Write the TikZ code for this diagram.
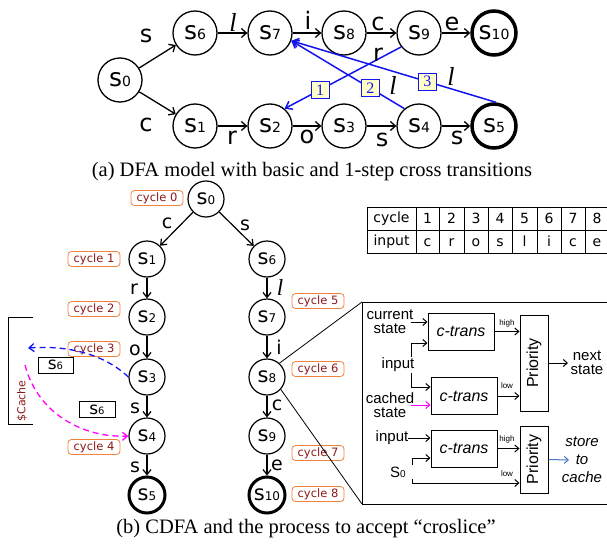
\documentclass[tikz,border=0pt]{standalone}
\usepackage{fontspec}
\setmainfont{Liberation Serif}
\newfontfamily\dv{DejaVu Sans}
\newfontfamily\lsans{Liberation Sans}
\usetikzlibrary{arrows.meta}
\definecolor{cycb}{RGB}{240,130,60}
\definecolor{cyct}{RGB}{140,25,25}
\definecolor{lblf}{RGB}{255,255,200}
\definecolor{blu}{RGB}{20,20,240}
\definecolor{mag}{RGB}{255,0,255}
\definecolor{stb}{RGB}{70,120,200}
\newcommand\sa[1]{{\dv\fontsize{25}{25}\selectfont s\fontsize{14}{14}\selectfont #1}}
\newcommand\sbb[1]{{\dv\fontsize{21}{21}\selectfont s\fontsize{12}{12}\selectfont #1}}
\newcommand\scx[1]{{\dv\fontsize{17}{17}\selectfont s\fontsize{10}{10}\selectfont #1}}
\begin{document}
\begin{tikzpicture}[x=1pt,y=-1pt,
  stA/.style={circle,draw,line width=1.3pt,minimum size=44pt,inner sep=0pt},
  finA/.style={stA,line width=3.5pt},
  stB/.style={circle,draw,line width=1.2pt,minimum size=36pt,inner sep=0pt},
  finB/.style={stB,line width=3pt},
  eA/.style={-{Straight Barb[length=5pt,width=9pt]},line width=1.3pt},
  eB/.style={-{Straight Barb[length=5pt,width=8pt]},line width=1.2pt},
  eBl/.style={-{Straight Barb[length=6pt,width=9pt]},line width=1.5pt,blu},
  eC/.style={-{Straight Barb[length=4pt,width=7pt]},line width=1pt},
  labA/.style={font=\dv\fontsize{24}{24}\selectfont,inner sep=0pt},
  labB/.style={font=\dv\fontsize{19}{19}\selectfont,inner sep=0pt},
  ellA/.style={font=\itshape\fontsize{26}{26}\selectfont,inner sep=0pt},
  ellB/.style={font=\itshape\fontsize{23}{23}\selectfont,inner sep=0pt},
  numbox/.style={draw,line width=0.6pt,fill=lblf,font=\fontsize{16}{16}\selectfont,inner sep=0pt,minimum width=18pt,minimum height=17pt},
  cyc/.style={draw=cycb,rounded corners=3.5pt,line width=0.8pt,text=cyct,font=\dv\fontsize{11.5}{12}\selectfont,minimum width=52pt,minimum height=15pt,inner sep=1pt},
  tbl/.style={font=\dv\fontsize{14}{14}\selectfont,inner sep=0pt},
  ctr/.style={draw,line width=1pt,minimum width=66pt,minimum height=37pt,inner sep=0pt,font=\lsans\itshape\fontsize{16}{16}\selectfont},
  prio/.style={draw,line width=1pt,minimum width=28pt,inner sep=0pt,font=\lsans\fontsize{16}{16}\selectfont},
  bt/.style={font=\lsans\fontsize{15}{14}\selectfont,align=center,inner sep=0pt},
  hl/.style={font=\lsans\fontsize{8}{8}\selectfont,inner sep=0pt},
  captxt/.style={font=\fontsize{20.5}{20.5}\selectfont,inner sep=0pt}
]
\useasboundingbox (0,0) rectangle (607,543);

% ---------- (a) ----------
\node[stA] (a0) at (120,80) {\sa{0}};
\node[stA] (a6) at (195,33) {\sa{6}};
\node[stA] (a7) at (270,33) {\sa{7}};
\node[stA] (a8) at (344,33) {\sa{8}};
\node[stA] (a9) at (419,33) {\sa{9}};
\node[finA] (a10) at (494,33) {\sa{10}};
\node[stA] (a1) at (195,126) {\sa{1}};
\node[stA] (a2) at (270,126) {\sa{2}};
\node[stA] (a3) at (344,126) {\sa{3}};
\node[stA] (a4) at (419,126) {\sa{4}};
\node[finA] (a5) at (494,126) {\sa{5}};

\draw[eA] (a0) -- (a6);
\draw[eA] (a0) -- (a1);
\draw[eA] (a6) -- (a7);
\draw[eA] (a7) -- (a8);
\draw[eA] (a8) -- (a9);
\draw[eA] (a9) -- (a10);
\draw[eA] (a1) -- (a2);
\draw[eA] (a2) -- (a3);
\draw[eA] (a3) -- (a4);
\draw[eA] (a4) -- (a5);

\node[labA] (la1) at (146,36) {s};
\node[labA] (la2) at (146,125) {c};
\node[ellA] (la3) at (233,22) {l};
\node[labA] (la4) at (308,20) {i};
\node[labA] (la5) at (378,24) {c};
\node[labA] (la6) at (452,24) {e};
\node[labA] (la7) at (232,138) {r};
\node[labA] (la8) at (307,137) {o};
\node[labA] (la9) at (382,140) {s};
\node[labA] (la10) at (457,138) {s};

\draw[eBl] (a9.-142) -- node[numbox,pos=0.695] (n1) {1} (a2.50);
\draw[eBl] (a4.130) -- node[numbox,pos=0.3] (n2) {2} (a7.-20);
\draw[eBl] (a5.85) -- node[numbox,pos=0.335] (n3) {3} (a7.-20);
\node[labA] (lr) at (378,55) {r};
\node[ellA] (ll2) at (393,85) {l};
\node[ellA] (ll3) at (451,76) {l};

\node[captxt,anchor=base] (capa) at (312,176) {(a) DFA model with basic and 1-step cross transitions};

% ---------- (b) ----------
\node[stB] (b0) at (206,199) {\sbb{0}};
\node[stB] (b1) at (147,259) {\sbb{1}};
\node[stB] (b2) at (147,317) {\sbb{2}};
\node[stB] (b3) at (147,377) {\sbb{3}};
\node[stB] (b4) at (147,436) {\sbb{4}};
\node[finB] (b5) at (147,495) {\sbb{5}};
\node[stB] (b6) at (267,259) {\sbb{6}};
\node[stB] (b7) at (267,317) {\sbb{7}};
\node[stB] (b8) at (267,377) {\sbb{8}};
\node[stB] (b9) at (267,436) {\sbb{9}};
\node[finB] (b10) at (267,495) {\sbb{10}};

\draw[eB] (b0) -- (b1);
\draw[eB] (b0) -- (b6);
\draw[eB] (b1) -- (b2);
\draw[eB] (b2) -- (b3);
\draw[eB] (b3) -- (b4);
\draw[eB] (b4) -- (b5);
\draw[eB] (b6) -- (b7);
\draw[eB] (b7) -- (b8);
\draw[eB] (b8) -- (b9);
\draw[eB] (b9) -- (b10);

\node[labB] (lb1) at (167,223) {c};
\node[labB] (lb2) at (245,225) {s};
\node[labB] (lb3) at (134,289) {r};
\node[ellB] (lb4) at (280,288) {l};
\node[labB] (lb5) at (135,350) {o};
\node[labB] (lb6) at (279,347) {i};
\node[labB] (lb7) at (135,408) {s};
\node[labB] (lb8) at (277,405) {c};
\node[labB] (lb9) at (135,467) {s};
\node[labB] (lb10) at (277,465) {e};

\node[cyc] (c0) at (157,198) {cycle 0};
\node[cyc] (c1) at (94,259) {cycle 1};
\node[cyc] (c2) at (94,309) {cycle 2};
\node[cyc] (c3) at (94,349) {cycle 3};
\node[cyc] (c4) at (94,447) {cycle 4};
\node[cyc] (c5) at (318,301) {cycle 5};
\node[cyc] (c6) at (318,369) {cycle 6};
\node[cyc] (c7) at (318,453) {cycle 7};
\node[cyc] (c8) at (318,494) {cycle 8};

% cache bracket
\draw[line width=1pt] (33,317) -- (8,317) -- (8,424) -- (33,424);
\node[rotate=90,text=cyct,font=\dv\fontsize{11}{11}\selectfont,inner sep=0pt] (cache) at (22,401) {\$Cache};
\node[draw,line width=1pt,minimum width=35pt,minimum height=16pt,inner sep=0pt] (k1) at (55.5,365) {\scx{6}};
\node[draw,line width=1pt,minimum width=36pt,minimum height=16pt,inner sep=0pt] (k2) at (97,409.5) {\scx{6}};
\coordinate (bl1) at (28,348);
\coordinate (mg1) at (25,365);
\draw[blu,line width=1.3pt,dash pattern=on 6pt off 4pt,-{Straight Barb[length=5pt,width=8pt]}]
  (b3.west) .. controls (105,355) and (70,345) .. (bl1);
\draw[mag,line width=1.3pt,dash pattern=on 6pt off 4pt,-{Straight Barb[length=5pt,width=8pt]}]
  (mg1) .. controls (38,415) and (85,438) .. (b4.west);

% table
\draw[line width=0.8pt] (367,207) rectangle (615,253);
\draw[line width=0.8pt] (367,230) -- (615,230);
\foreach \x in {416,439,464,488,512,537,561,585}
  \draw[line width=0.8pt] (\x,207) -- (\x,253);
\node[tbl] (tc) at (391.5,218.5) {cycle};
\node[tbl] (ti) at (391.5,241.5) {input};
\foreach \cx/\n/\ch [count=\i] in {427.5/1/c,451.5/2/r,476/3/o,500/4/s,524.5/5/l,549/6/i,573/7/c,597/8/e}{
  \node[tbl] (tn\i) at (\cx,218.5) {\n};
  \node[tbl] (tch\i) at (\cx,241.5) {\vphantom{l}\ch};
}

% detail box
\coordinate (bxt) at (362,302);
\coordinate (bxb) at (362,504);
\draw[line width=1pt] (bxt) rectangle (615,504);
\draw[line width=0.8pt] (b8.48) -- (bxt);
\draw[line width=0.8pt] (b8.-42) -- (bxb);

\node[ctr] (ct1) at (461,331.5) {c-trans};
\node[ctr] (ct2) at (464,396) {c-trans};
\node[ctr] (ct3) at (464,448.5) {c-trans};
\node[prio,minimum height=96pt] (pr1) at (534,363) {\rotatebox{90}{Priority}};
\node[prio,minimum height=67pt] (pr2) at (534,459.5) {\rotatebox{90}{Priority}};

\node[bt] (cur) at (390,322) {current\\state};
\node[bt] (inp1) at (398,365) {input};
\node[bt] (cch) at (390,405) {cached\\state};
\node[bt] (nxt) at (587,363) {next\\state};
\node[bt] (inp2) at (392,438) {input};
\node[bt] (szero) at (398,472) {S{\fontsize{10}{10}\selectfont 0}};
\node[bt,font=\lsans\itshape\fontsize{15}{18}\selectfont] (sto) at (582,460) {store\\to\\cache};

\draw[eC] ([xshift=-3pt]cur.east) -- (cur.east -| ct1.west);
\coordinate (i1t) at (411,357);
\coordinate (i1b) at (411,373);
\draw[eC] (i1t) |- ([yshift=-11.5pt]ct1.west);
\draw[eC] (i1b) |- ([yshift=9pt]ct2.west);
\draw[eC,mag] ([xshift=-3pt]cch.east) -- (cch.east -| ct2.west);
\draw[eC] (ct1.east) -- (ct1.east -| pr1.west);
\draw[eC] (ct2.east) -- (ct2.east -| pr1.west);
\coordinate (nsend) at (568,363);
\draw[eC] (pr1.east) -- (nsend);
\draw[eC] (inp2.east) -- (inp2.east -| ct3.west);
\coordinate (s0t) at (412,465);
\coordinate (s0b) at (412,479);
\draw[eC] (s0t) |- ([yshift=-9.5pt]ct3.west);
\draw[eC] (s0b) |- ([yshift=-23.5pt]pr2.west);
\draw[eC] (ct3.east) -- (ct3.east -| pr2.west);
\coordinate (stoend) at (569,460);
\draw[eC,stb] (pr2.east) -- (stoend);

\node[hl] (h1) at (507,323) {high};
\node[hl] (l1) at (507,386) {low};
\node[hl] (h2) at (507,439) {high};
\node[hl] (l2) at (507,474) {low};

\node[captxt,anchor=base] (capb) at (306,533) {(b) CDFA and the process to accept “croslice”};
\end{tikzpicture}
\end{document}
